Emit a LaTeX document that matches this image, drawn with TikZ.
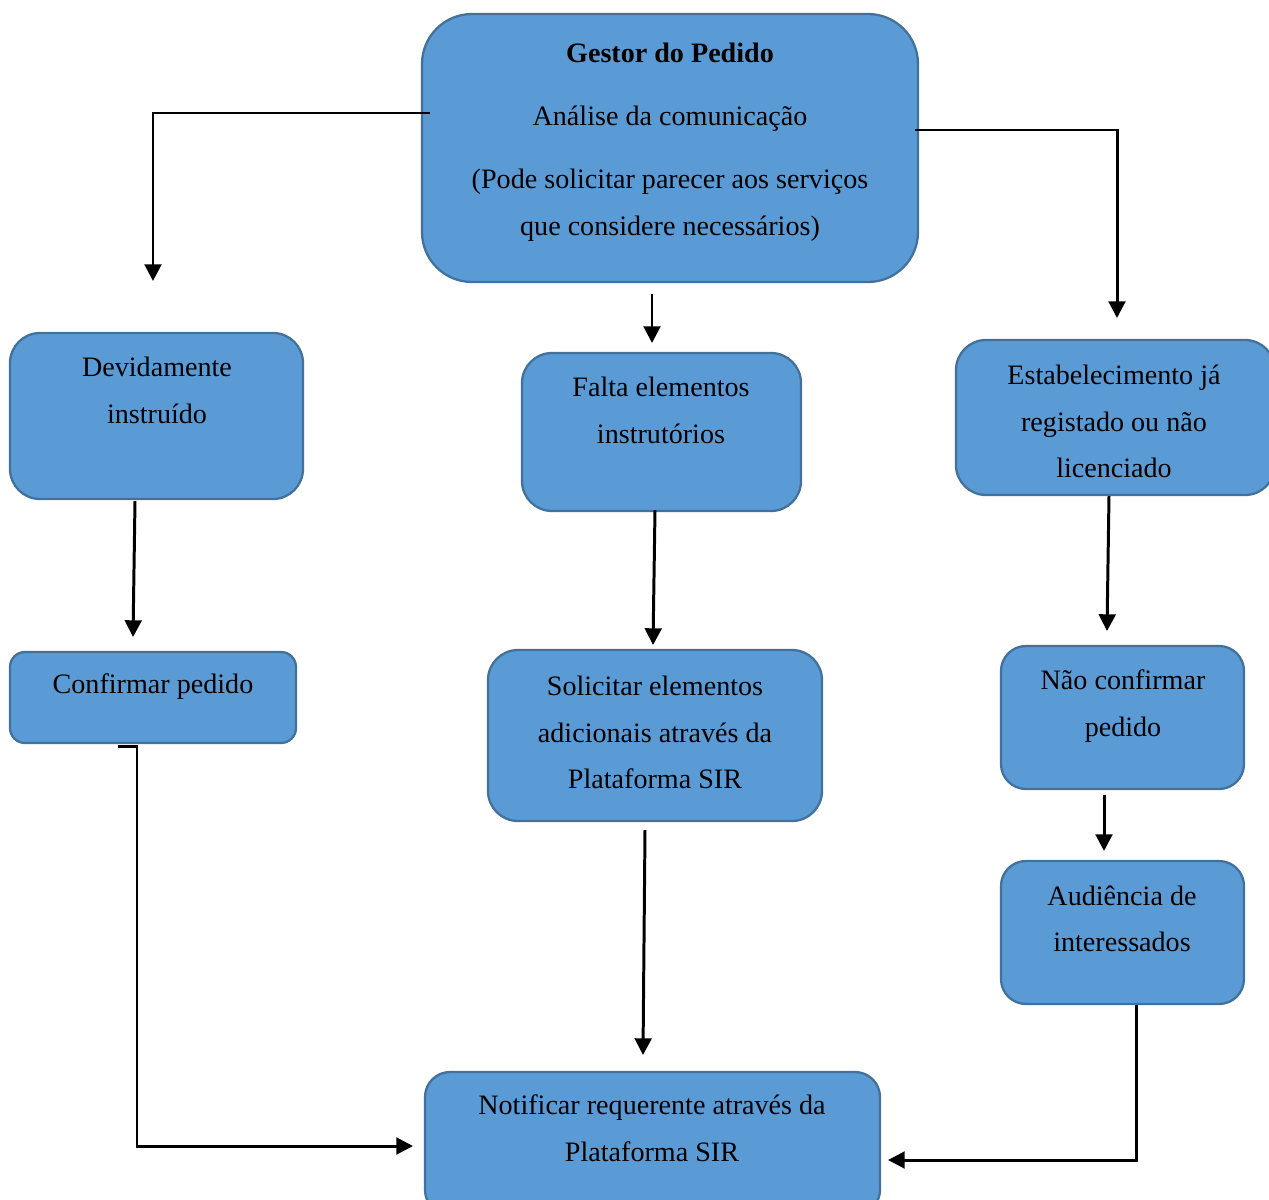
\documentclass[tikz,border=0pt]{standalone}
\usepackage{fontspec}
\setmainfont{Liberation Serif}
\usetikzlibrary{arrows.meta,calc,fit}
\definecolor{boxfill}{HTML}{5B9BD5}
\definecolor{boxline}{HTML}{41719C}
\tikzset{
  stepbox/.style={draw=boxline, fill=boxfill, line width=1.3pt, inner sep=0pt},
  label/.style={anchor=base, inner sep=0pt, font=\fontsize{16pt}{20pt}\selectfont},
  conn/.style={line width=1.7pt, -{Triangle[length=9.5pt,width=9.5pt]}},
}
\begin{document}
\begin{tikzpicture}[x=0.02cm, y=-0.02cm]
\useasboundingbox (0,0) rectangle (1269,1200);
\clip (0,0) rectangle (1269,1200);

% boxes
\node[stepbox, rounded corners=1cm,  fit={(422,14)(918,282)}]    (gestor) {};
\node[stepbox, rounded corners=0.6cm, fit={(10,333)(303,499)}]   (devid) {};
\node[stepbox, rounded corners=0.6cm, fit={(522,353)(801,511)}]  (falta) {};
\node[stepbox, rounded corners=0.6cm, fit={(956,340)(1275,495)}] (estab) {};
\node[stepbox, rounded corners=0.3cm, fit={(10,652)(296,743)}]   (confirmar) {};
\node[stepbox, rounded corners=0.6cm, fit={(488,650)(822,821)}]  (solic) {};
\node[stepbox, rounded corners=0.5cm, fit={(1001,646)(1244,789)}] (naoconf) {};
\node[stepbox, rounded corners=0.5cm, fit={(1001,861)(1244,1004)}] (audiencia) {};
\node[stepbox, rounded corners=0.5cm, fit={(425,1072)(880,1215)}] (notificar) {};

% texts
\node[label, font=\fontsize{16pt}{20pt}\selectfont\bfseries] (g1) at (670,62) {Gestor do Pedido};
\node[label] (g2) at (670,125) {Análise da comunicação};
\node[label] (g3) at (670,188) {(Pode solicitar parecer aos serviços};
\node[label] (g4) at (670,235) {que considere necessários)};

\node[label] (d1) at (157,376) {Devidamente};
\node[label] (d2) at (157,423) {instruído};

\node[label] (f1) at (661,396) {Falta elementos};
\node[label] (f2) at (661,443) {instrutórios};

\node[label] (e1) at (1114,384) {Estabelecimento já};
\node[label] (e2) at (1114,431) {registado ou não};
\node[label] (e3) at (1114,477) {licenciado};

\node[label] (c1) at (153,693) {Confirmar pedido};

\node[label] (s1) at (655,695) {Solicitar elementos};
\node[label] (s2) at (655,742) {adicionais através da};
\node[label] (s3) at (655,788) {Plataforma SIR};

\node[label] (n1) at (1123,689) {Não confirmar};
\node[label] (n2) at (1123,736) {pedido};

\node[label] (a1) at (1122,905) {Audiência de};
\node[label] (a2) at (1122,951) {interessados};

\node[label] (r1) at (652,1114) {Notificar requerente através da};
\node[label] (r2) at (652,1161) {Plataforma SIR};

% arrow ends
\coordinate (toDevid) at (153,281);
\coordinate (toEstab) at (1117,318);
\coordinate (toFalta) at (652,343);
\coordinate (toConfirmar) at (133,637);
\coordinate (toSolic) at (653,645);
\coordinate (toNaoconf) at (1107,631);
\coordinate (toAudiencia) at (1104,851);
\coordinate (toNotifA) at (643,1055);
\coordinate (toNotifL) at (413,1146);
\coordinate (toNotifR) at (888,1160);

% connectors
\draw[conn] ($(gestor.west)+(9,-35)$) -| (toDevid);
\draw[conn] ($(gestor.east)+(-4,-18)$) -| (toEstab);
\draw[conn] ($(gestor.south)+(-18,11)$) -- (toFalta);
\draw[conn] ($(devid.south)+(-21.5,1)$) -- (toConfirmar);
\draw[conn] ($(falta.south)+(-6.5,-2)$) -- (toSolic);
\draw[conn] ($(estab.south)+(-6.5,0)$) -- (toNaoconf);
\draw[conn] ($(naoconf.south)+(-18.5,5)$) -- (toAudiencia);
\draw[conn] ($(solic.south)+(-10,8)$) -- (toNotifA);
\draw[conn] ($(confirmar.south)+(-35,2)$) -- ++(19,0) |- (toNotifL);
\draw[conn] ($(audiencia.south)+(13.5,0)$) |- (toNotifR);
\end{tikzpicture}
\end{document}
